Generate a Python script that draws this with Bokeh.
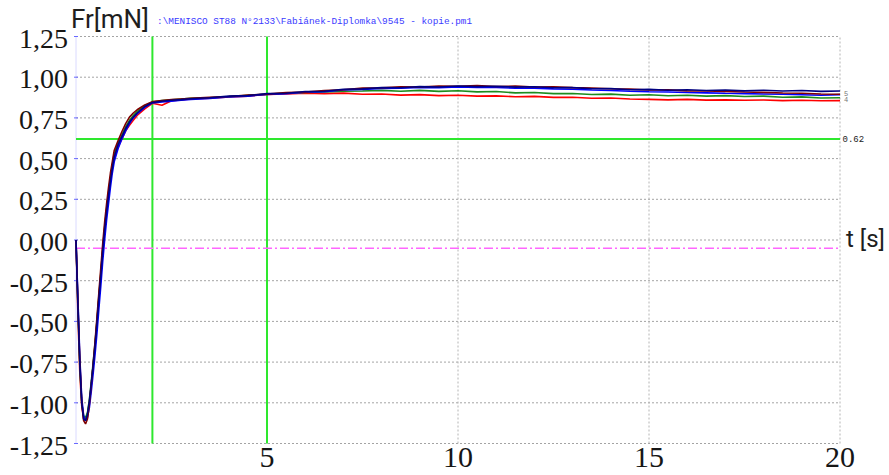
from bokeh.plotting import figure
from bokeh.models import Range1d
from bokeh.core.properties import value
from bokeh.embed import file_html
from bokeh.resources import INLINE

# ---------------- data ----------------
T = [0, 0.05, 0.1, 0.15, 0.2, 0.25, 0.3, 0.35, 0.4, 0.45, 0.5, 0.55, 0.6, 0.65,
     0.7, 0.75, 0.8, 0.85, 0.9, 0.95, 1.0, 1.1, 1.2, 1.3, 1.4, 1.5, 1.6, 1.8,
     2.0, 2.25, 2.5, 2.75, 3.0, 3.5, 4.0, 4.5, 5.0, 5.5, 6.0, 6.5, 7.0, 7.5,
     8.0, 8.5, 9.0, 9.5, 10.0, 10.5, 11.0, 11.5, 12.0, 12.5, 13.0, 13.5, 14.0,
     14.5, 15.0, 15.5, 16.0, 16.5, 17.0, 17.5, 18.0, 18.5, 19.0, 19.5, 20.0]

red = [0.0, -0.46, -0.82, -1.02, -1.10, -1.10, -1.07, -1.0, -0.89, -0.77, -0.64,
       -0.50, -0.35, -0.21, -0.06, 0.07, 0.18, 0.28, 0.37, 0.44, 0.50, 0.57, 0.62,
       0.67, 0.705, 0.735, 0.765, 0.805, 0.84, 0.828, 0.855, 0.86, 0.866,
       0.871, 0.878, 0.884, 0.894, 0.897, 0.902, 0.899, 0.902, 0.895, 0.897, 0.890,
       0.893, 0.887, 0.889, 0.884, 0.885, 0.880, 0.882, 0.876, 0.877, 0.871, 0.872,
       0.866, 0.864, 0.861, 0.864, 0.859, 0.861, 0.858, 0.860, 0.856, 0.858, 0.855,
       0.856]
green = [0.0, -0.42, -0.78, -1.0, -1.08, -1.09, -1.06, -0.98, -0.87, -0.75, -0.63,
         -0.49, -0.34, -0.2, -0.05, 0.08, 0.19, 0.29, 0.38, 0.46, 0.53, 0.595, 0.645,
         0.695, 0.735, 0.765, 0.79, 0.825, 0.848, 0.856, 0.861, 0.866, 0.871,
         0.874, 0.880, 0.889, 0.895, 0.902, 0.906, 0.910, 0.914, 0.915, 0.919, 0.914,
         0.919, 0.913, 0.917, 0.910, 0.912, 0.904, 0.906, 0.899, 0.900, 0.894, 0.896,
         0.889, 0.892, 0.886, 0.889, 0.884, 0.887, 0.881, 0.884, 0.877, 0.879, 0.872,
         0.874]
blue = [0.0, -0.36, -0.72, -0.97, -1.08, -1.11, -1.09, -1.03, -0.93, -0.82, -0.70,
        -0.57, -0.42, -0.28, -0.13, 0.0, 0.12, 0.22, 0.32, 0.41, 0.48, 0.56, 0.62,
        0.67, 0.715, 0.75, 0.775, 0.815, 0.842, 0.848, 0.852, 0.858, 0.864,
        0.870, 0.879, 0.884, 0.894, 0.898, 0.908, 0.911, 0.921, 0.925, 0.931, 0.932,
        0.937, 0.936, 0.940, 0.937, 0.937, 0.933, 0.933, 0.928, 0.926, 0.921, 0.918,
        0.914, 0.911, 0.909, 0.906, 0.904, 0.901, 0.899, 0.897, 0.895, 0.892, 0.889,
        0.893]
maroon = [0.0, -0.38, -0.74, -0.99, -1.11, -1.13, -1.10, -1.01, -0.89, -0.76, -0.62,
          -0.47, -0.32, -0.17, -0.02, 0.11, 0.22, 0.32, 0.41, 0.48, 0.55, 0.61, 0.665,
          0.715, 0.755, 0.78, 0.80, 0.83, 0.85, 0.857, 0.862, 0.866, 0.870,
          0.876, 0.881, 0.890, 0.896, 0.905, 0.909, 0.918, 0.923, 0.933, 0.935, 0.941,
          0.940, 0.946, 0.944, 0.948, 0.943, 0.945, 0.940, 0.941, 0.936, 0.934, 0.929,
          0.927, 0.921, 0.922, 0.916, 0.915, 0.912, 0.909, 0.907, 0.903, 0.901, 0.897,
          0.895]
navy = [0.0, -0.40, -0.76, -1.00, -1.10, -1.11, -1.07, -0.99, -0.88, -0.77, -0.65,
        -0.51, -0.36, -0.22, -0.07, 0.06, 0.17, 0.27, 0.36, 0.44, 0.51, 0.585, 0.635,
        0.685, 0.725, 0.755, 0.78, 0.82, 0.845, 0.852, 0.858, 0.862, 0.868,
        0.874, 0.884, 0.887, 0.899, 0.901, 0.912, 0.914, 0.926, 0.928, 0.936, 0.935,
        0.942, 0.940, 0.946, 0.942, 0.944, 0.939, 0.941, 0.935, 0.936, 0.929, 0.930,
        0.923, 0.925, 0.920, 0.923, 0.918, 0.921, 0.916, 0.920, 0.915, 0.918, 0.913,
        0.915]

series_colors = ["#ff0000", "#1e8c1e", "#0000ff", "#800000", "#000080"]

y_ticks = [-1.25, -1.0, -0.75, -0.5, -0.25, 0.0, 0.25, 0.5, 0.75, 1.0, 1.25]
y_tick_labels = ["-1,25", "-1,00", "-0,75", "-0,50", "-0,25", "0,00",
                 "0,25", "0,50", "0,75", "1,00", "1,25"]
x_ticks = [5, 10, 15, 20]
x_tick_labels = ["5", "10", "15", "20"]
x_start, x_end = 0, 20

cursor_x = [2.0, 5.0]
cursor_y = [0.62]
cursor_y_text = ["0.62"]
baseline_y = [-0.05]
end_marks = [0.90, 0.865]
end_mark_texts = ["5", "4"]

y_title = ["Fr[mN]"]
x_title = ["t [s]"]
file_title = [r":\MENISCO ST88 N°2133\Fabiánek-Diplomka\9545 - kopie.pm1"]

# ---------------- figure ----------------
W, H = 889, 475
X0PX, KX = 75.5, 38.2       # pixel of t=0, pixels per second
Y125PX, KY = 36.0, 162.8    # pixel of 1.25, pixels per mN
xr = Range1d(-X0PX / KX, 20 + (W - X0PX - 20 * KX) / KX)
yr = Range1d(1.25 - (H - Y125PX) / KY, 1.25 + Y125PX / KY)

p = figure(width=W, height=H, x_range=xr, y_range=yr, x_axis_type=None,
           y_axis_type=None, output_backend="svg", toolbar_location=None,
           min_border=0)
p.title.visible = False
p.outline_line_color = None
p.background_fill_color = "white"
p.border_fill_color = "white"

ylo, yhi = y_ticks[0], y_ticks[-1]

# grid
p.segment(x0=[x_start] * len(y_ticks), x1=[x_end] * len(y_ticks), y0=y_ticks, y1=y_ticks,
          line_color="#a4a4a4", line_width=1, line_dash="2 2")
p.segment(x0=x_ticks, x1=x_ticks, y0=[ylo] * len(x_ticks), y1=[yhi] * len(x_ticks),
          line_color="#b4b4b4", line_width=1, line_dash="2 2")
# left axis line and tick dots
p.segment(x0=[x_start], x1=[x_start], y0=[ylo], y1=[yhi], line_color="#dadaff", line_width=1)
p.scatter(x=[x_start] * len(y_ticks), y=y_ticks, marker="dash", size=4,
          line_color="#6a6aff", line_width=1)

# cursors
p.segment(x0=cursor_x, x1=cursor_x, y0=[ylo] * len(cursor_x), y1=[yhi] * len(cursor_x),
          line_color="#2ee82e", line_width=2)
p.segment(x0=[x_start] * len(cursor_y), x1=[x_end] * len(cursor_y), y0=cursor_y, y1=cursor_y,
          line_color="#2ee82e", line_width=2)
p.segment(x0=[x_start] * len(baseline_y), x1=[x_end] * len(baseline_y), y0=baseline_y,
          y1=baseline_y, line_color="#ff66ff", line_width=1.5, line_dash="9 3 2 3")

# curves
for ys, col in zip([red, green, blue, maroon, navy], series_colors):
    p.line(T, ys, line_color=col, line_width=1.6)

# tick labels
p.text(x=[x_start] * len(y_ticks), y=y_ticks, text=y_tick_labels, x_offset=-8, y_offset=2,
       text_align="right", text_baseline="middle", text_font=value("Liberation Serif"),
       text_font_size="28px", text_color="#161616")
p.text(x=x_ticks, y=[ylo] * len(x_ticks), text=x_tick_labels, y_offset=14,
       text_align="center", text_baseline="middle", text_font=value("Liberation Serif"),
       text_font_size="30px", text_color="#161616")

# titles and side texts
p.text(x=[x_start], y=[yhi], text=y_title, x_offset=-5, y_offset=-17.5,
       text_baseline="middle", text_font=value("Roboto"), text_font_size="26px",
       text_color="#1e1e1e")
p.text(x=[x_start], y=[yhi], text=file_title, x_offset=81, y_offset=-15,
       text_baseline="middle", text_font=value("Liberation Mono"),
       text_font_size="9.4px", text_color="#3a3aff")
p.text(x=[x_end], y=[0.0], text=x_title, x_offset=6, y_offset=-1,
       text_baseline="middle", text_font=value("Roboto"), text_font_size="24px",
       text_color="#1e1e1e")
p.text(x=[x_end] * len(cursor_y), y=cursor_y, text=cursor_y_text, x_offset=2.5,
       text_baseline="middle", text_font=value("Liberation Mono"), text_font_size="9px",
       text_color="#222222")
p.text(x=[x_end] * len(end_marks), y=end_marks, text=end_mark_texts, x_offset=4,
       text_baseline="middle", text_font=value("Liberation Mono"), text_font_size="7px",
       text_color="#777777")

open("out.html", "w").write(file_html(p, INLINE))
